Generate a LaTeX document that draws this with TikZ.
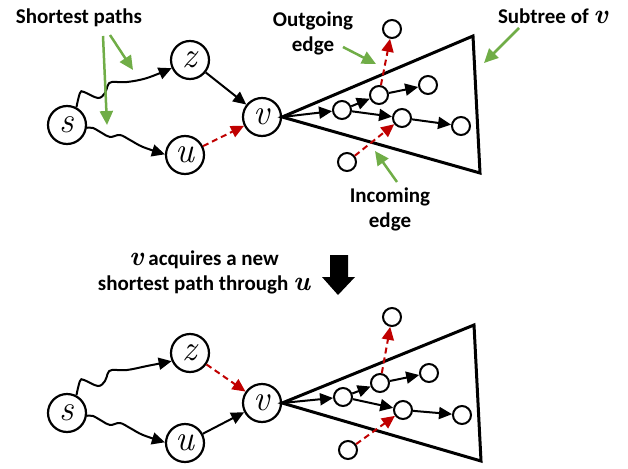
\documentclass[tikz,border=0pt]{standalone}
\usepackage{fontspec}
\setmainfont{Carlito}
\newfontfamily\lmr{Latin Modern Roman}
\newfontfamily\lmrbig[Scale=1.3]{Latin Modern Roman}
\newcommand{\mv}[1]{{\lmr\itshape #1}}
\newcommand{\mbv}[1]{{\lmrbig\bfseries\itshape #1}}
\usetikzlibrary{arrows.meta}
\definecolor{grn}{RGB}{112,173,71}
\definecolor{rd}{RGB}{192,0,0}
\begin{document}
\begin{tikzpicture}[x=1pt,y=-1pt,
 big/.style={circle,draw,line width=2.2pt,minimum size=38pt,inner sep=0pt,font=\fontsize{36}{36}\selectfont},
 small/.style={circle,draw,line width=2pt,minimum size=18pt,inner sep=0pt},
 arr/.style={line width=2pt,-{Triangle[length=13pt,width=12pt]}},
 rarr/.style={arr,rd,dash pattern=on 6pt off 4pt},
 garr/.style={line width=2.5pt,grn,-{Triangle[length=14pt,width=13pt]}},
 lbl/.style={font=\fontsize{21}{25}\selectfont\bfseries,align=center,inner sep=0pt},
 tri/.style={line width=3pt,line join=miter}]
\useasboundingbox (0,0) rectangle (628,468);

% ---------- top ----------
\node[big] (s) at (67,125) {\mv{s}};
\node[big] (z) at (190,60) {\mv{z}};
\node[big] (u) at (185,155) {\mv{u}};
\node[big] (v) at (262,117) {\mv{v}};
\coordinate (t1) at (473,36);
\coordinate (t2) at (480,173);
\draw[tri] (v.east) -- (t1) -- (t2) -- cycle;
\node[small] (a1) at (342,110) {};
\node[small] (a2) at (379,95) {};
\node[small] (a3) at (428,85) {};
\node[small] (a4) at (402,118) {};
\node[small] (a5) at (461,126) {};
\node[small] (ao) at (392,29) {};
\node[small] (ai) at (347,162) {};

\draw[arr] plot[smooth,tension=0.6] coordinates {(s.62) (80,93) (84,92) (98,98) (105,93) (108,85) (112,82) (127,82) (147,78) (z.204)};
\draw[arr] plot[smooth,tension=0.6] coordinates {(s.-8) (93,128) (102,133) (110,137) (120,135) (130,140) (143,147) (u.178)};
\draw[arr] (z) -- (v);
\draw[rarr] (u) -- (v);
\draw[arr] (v.east) -- (a1);
\draw[arr] (a1) -- (a2);
\draw[arr] (a2) -- (a3);
\draw[arr] (a1) -- (a4);
\draw[arr] (a4) -- (a5);
\draw[rarr] (a2) -- (ao);
\draw[rarr] (ai) -- (a4);

\node[lbl] (sp) at (79,18) {Shortest paths};
\node[lbl] (og) at (313,33) {Outgoing\\edge};
\node[lbl] (st) at (553,16) {Subtree of \mbv{v}};
\node[lbl] (ic) at (390,209) {Incoming\\edge};
\coordinate (g1a) at (103,36);
\coordinate (g1b) at (107,125);
\coordinate (g2a) at (110,35);
\coordinate (g2b) at (133,70);
\coordinate (g3a) at (343,47);
\coordinate (g3b) at (376,64);
\coordinate (g4a) at (519,28);
\coordinate (g4b) at (484,63);
\coordinate (g5a) at (397,182);
\coordinate (g5b) at (375,151);
\draw[garr] (g1a) -- (g1b);
\draw[garr] (g2a) -- (g2b);
\draw[garr] (g3a) -- (g3b);
\draw[garr] (g4a) -- (g4b);
\draw[garr] (g5a) -- (g5b);

% ---------- middle ----------
\node[lbl] (mt) at (204,272) {\mbv{v} acquires a new\\shortest path through \mbv{u}};
\fill (330,255) -- (348,255) -- (348,277) -- (355,277) -- (338,295) -- (322,277) -- (330,277) -- cycle;

% ---------- bottom ----------
\begin{scope}[shift={(0,288)}]
\node[big] (s2) at (67,125) {\mv{s}};
\node[big] (z2) at (190,65) {\mv{z}};
\node[big] (u2) at (185,155) {\mv{u}};
\node[big] (v2) at (262,115) {\mv{v}};
\coordinate (b1) at (474,37);
\coordinate (b2) at (481,173);
\draw[tri] (v2.east) -- (b1) -- (b2) -- cycle;
\node[small] (c1) at (343,109) {};
\node[small] (c2) at (380,95) {};
\node[small] (c3) at (429,85) {};
\node[small] (c4) at (403,122) {};
\node[small] (c5) at (462,127) {};
\node[small] (co) at (392,29) {};
\node[small] (ci) at (348,162) {};

\draw[arr] plot[smooth,tension=0.6] coordinates {(s2.62) (80,93) (84,92) (98,98) (105,93) (108,85) (112,82) (127,82) (147,78) (z2.204)};
\draw[arr] plot[smooth,tension=0.6] coordinates {(s2.-8) (93,128) (102,133) (110,137) (120,135) (130,140) (143,147) (u2.178)};
\draw[rarr] (z2) -- (v2);
\draw[arr] (u2) -- (v2);
\draw[arr] (v2.east) -- (c1);
\draw[arr] (c1) -- (c2);
\draw[arr] (c2) -- (c3);
\draw[arr] (c1) -- (c4);
\draw[arr] (c4) -- (c5);
\draw[rarr] (c2) -- (co);
\draw[rarr] (ci) -- (c4);
\end{scope}
\end{tikzpicture}
\end{document}
